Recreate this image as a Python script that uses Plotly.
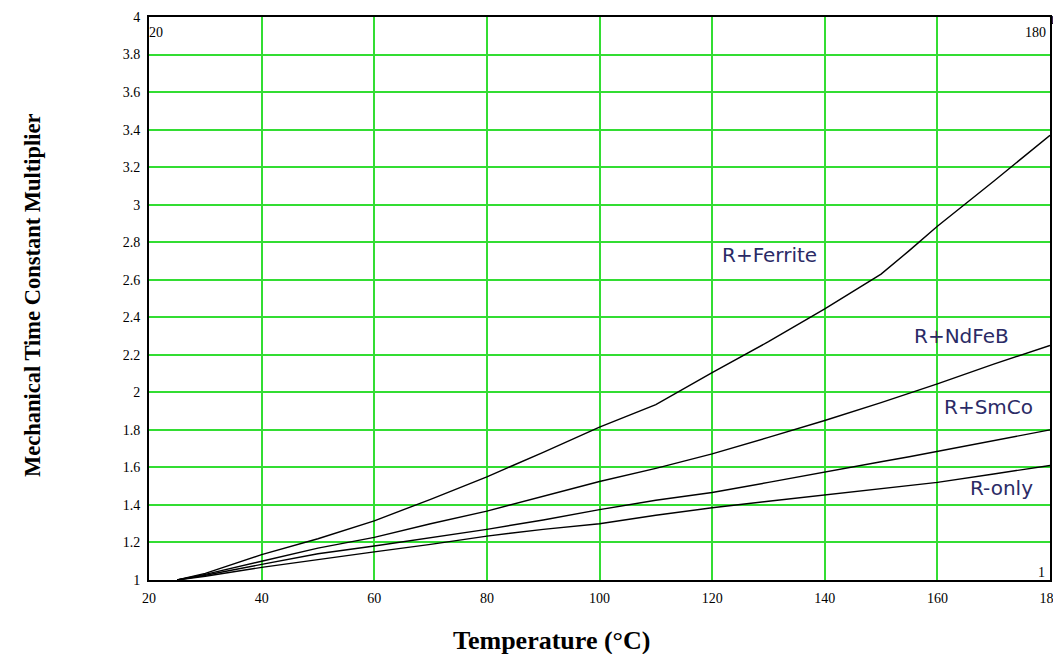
import plotly.graph_objects as go

temps = [25, 30, 40, 50, 60, 70, 80, 90, 100, 110, 120, 130, 140, 150, 155, 160, 170, 180]
r_ferrite = [1.0, 1.035, 1.135, 1.22, 1.315, 1.43, 1.55, 1.68, 1.815, 1.935, 2.105, 2.27, 2.445, 2.63, 2.755, 2.885, 3.125, 3.37]
r_ndfeb = [1.0, 1.03, 1.10, 1.17, 1.227, 1.30, 1.367, 1.445, 1.525, 1.595, 1.672, 1.76, 1.85, 1.945, 1.995, 2.045, 2.15, 2.25]
r_smco = [1.0, 1.025, 1.083, 1.14, 1.181, 1.225, 1.27, 1.32, 1.375, 1.425, 1.466, 1.52, 1.573, 1.63, 1.657, 1.685, 1.745, 1.80]
r_only = [1.0, 1.02, 1.067, 1.11, 1.15, 1.19, 1.234, 1.27, 1.30, 1.345, 1.385, 1.42, 1.454, 1.49, 1.505, 1.52, 1.565, 1.61]

series = [("R+Ferrite", r_ferrite), ("R+NdFeB", r_ndfeb), ("R+SmCo", r_smco), ("R-only", r_only)]
label_pos = {"R+Ferrite": (130.2, 2.73), "R+NdFeB": (164.2, 2.30), "R+SmCo": (169.0, 1.92), "R-only": (171.3, 1.49)}

x_ticks = [20, 40, 60, 80, 100, 120, 140, 160, 180]
y_ticks = [1, 1.2, 1.4, 1.6, 1.8, 2, 2.2, 2.4, 2.6, 2.8, 3, 3.2, 3.4, 3.6, 3.8, 4]
y_tick_text = ["1", "1.2", "1.4", "1.6", "1.8", "2", "2.2", "2.4", "2.6", "2.8", "3", "3.2", "3.4", "3.6", "3.8", "4"]

fig = go.Figure()
for name, vals in series:
    fig.add_trace(go.Scatter(x=temps, y=vals, mode="lines", name=name,
                             line=dict(color="black", width=1.4), showlegend=False))

serif = "Liberation Serif"
for name, (lx, ly) in label_pos.items():
    fig.add_annotation(x=lx, y=ly, text=name, showarrow=False,
                       font=dict(family="DejaVu Sans", size=20, color="#2b2b66"))

# corner artefacts
fig.add_annotation(x=20, y=4, xref="x", yref="y", text="20", showarrow=False,
                   xanchor="left", yanchor="top", yshift=-6, xshift=-2,
                   font=dict(family=serif, size=14, color="black"))
fig.add_annotation(x=180, y=4, xref="x", yref="y", text="180", showarrow=False,
                   xanchor="right", yanchor="top", yshift=-6, xshift=-2,
                   font=dict(family=serif, size=14, color="black"))
fig.add_annotation(x=180, y=4, xref="x", yref="y", text="1", showarrow=False,
                   xanchor="right", yanchor="bottom", yshift=-12, xshift=8,
                   font=dict(family=serif, size=13, color="black"))
fig.add_annotation(x=180, y=1, xref="x", yref="y", text="1", showarrow=False,
                   xanchor="right", yanchor="bottom", yshift=-2, xshift=-3,
                   font=dict(family=serif, size=14, color="black"))

fig.add_annotation(x=-0.13, y=0.506, xref="paper", yref="paper",
                   text="<b>Mechanical Time Constant Multiplier</b>", showarrow=False,
                   textangle=-90, xanchor="center", yanchor="middle",
                   font=dict(family=serif, size=22.5, color="black"))
fig.add_annotation(x=0.447, y=-0.1066, xref="paper", yref="paper",
                   text="<b>Temperature (°C)</b>", showarrow=False,
                   xanchor="center", yanchor="middle",
                   font=dict(family=serif, size=26, color="black"))

fig.update_layout(
    width=1061, height=654,
    margin=dict(l=141, r=19, t=9, b=82, autoexpand=False),
    plot_bgcolor="white", paper_bgcolor="white",
    xaxis=dict(range=[20, 180], tickvals=x_ticks, ticktext=[str(t) for t in x_ticks],
               showgrid=True, gridcolor="#33dd33", gridwidth=2,
               showline=True, linecolor="black", linewidth=2, mirror=True,
               ticks="", tickfont=dict(family=serif, size=14, color="black"),
               ticklabelstandoff=4, automargin=False,
               zeroline=False, fixedrange=True),
    yaxis=dict(range=[1, 4], tickvals=y_ticks, ticktext=y_tick_text,
               showgrid=True, gridcolor="#33dd33", gridwidth=2,
               showline=True, linecolor="black", linewidth=2, mirror=True,
               ticks="", tickfont=dict(family=serif, size=14, color="black"),
               ticklabelstandoff=4, automargin=False,
               zeroline=False, fixedrange=True),
)

fig.write_html("out.html")
